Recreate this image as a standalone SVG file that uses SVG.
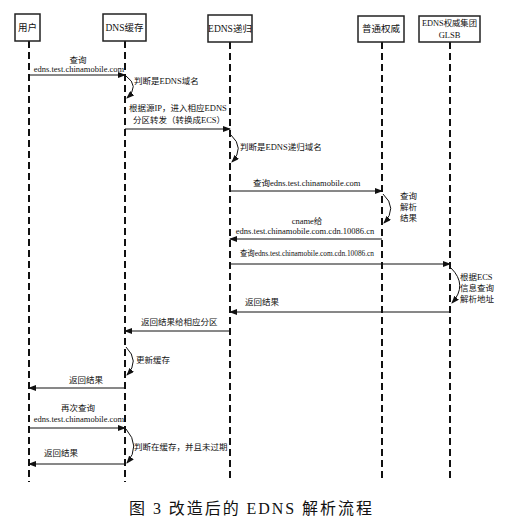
<svg xmlns="http://www.w3.org/2000/svg" width="516" height="526" viewBox="0 0 516 526">
<defs>
<marker id="ah" markerUnits="userSpaceOnUse" markerWidth="8" markerHeight="6" refX="7" refY="3" orient="auto">
<path d="M0,0 L8,3 L0,6 z" fill="#111"/>
</marker>
<style>
.box{fill:#fff;stroke:#222;stroke-width:1.5}
.life{stroke:#111;stroke-width:2;stroke-dasharray:7 4;fill:none}
.msg{stroke:#111;stroke-width:1;fill:none;marker-end:url(#ah)}
.loop{stroke:#111;stroke-width:1;fill:none;marker-end:url(#ah)}
.nt{font-family:"Liberation Serif","Noto Sans CJK SC",serif;font-size:9.5px;fill:#111;text-anchor:middle}
.t{font-family:"Liberation Serif","Noto Sans CJK SC",serif;font-size:8.5px;fill:#111}
.c{text-anchor:middle}
.cap{font-family:"Liberation Serif","Noto Sans CJK SC",serif;font-size:16px;fill:#111}
</style>
</defs>
<rect width="516" height="526" fill="#fff"/>
<g id="user">
<line class="life" x1="29" y1="41" x2="29" y2="482"/>
<rect class="box" x="15" y="14" width="25" height="27"/>
<text class="nt" x="27.5" y="31">用户</text>
</g>
<g id="dnscache">
<line class="life" x1="125" y1="41" x2="125" y2="482"/>
<rect class="box" x="103" y="14" width="43" height="27"/>
<text class="nt" x="124.5" y="31">DNS缓存</text>
</g>
<g id="ednsrec">
<line class="life" x1="230" y1="42" x2="230" y2="482"/>
<rect class="box" x="208" y="15" width="44" height="27"/>
<text class="nt" x="230" y="32">EDNS递归</text>
</g>
<g id="auth">
<line class="life" x1="382" y1="42" x2="382" y2="482"/>
<rect class="box" x="358" y="16" width="46" height="26"/>
<text class="nt" x="381" y="32">普通权威</text>
</g>
<g id="glsb">
<line class="life" x1="450" y1="42" x2="450" y2="482"/>
<rect class="box" x="419" y="16" width="61" height="26"/>
<text class="nt" x="449.5" y="26" style="font-size:8.5px" textLength="55" lengthAdjust="spacingAndGlyphs">EDNS权威集团</text>
<text class="nt" x="449.5" y="38" style="font-size:8.5px">GLSB</text>
</g>
<g id="connectors">
<line class="msg" x1="29" y1="75" x2="125" y2="75"/>
<path class="loop" d="M126,76 Q140,86 127,98"/>
<line class="msg" x1="125" y1="129" x2="230" y2="129"/>
<path class="loop" d="M231,135 Q245,148 232,162"/>
<line class="msg" x1="230" y1="191" x2="382" y2="191"/>
<path class="loop" d="M383,194 Q398,208 384,223"/>
<line class="msg" x1="382" y1="239" x2="230" y2="239"/>
<line class="msg" x1="230" y1="264" x2="450" y2="264"/>
<path class="loop" d="M451,268 Q468,285 452,303"/>
<line class="msg" x1="450" y1="312" x2="230" y2="312"/>
<line class="msg" x1="230" y1="331" x2="125" y2="331"/>
<path class="loop" d="M126,347 Q140,361 127,375"/>
<line class="msg" x1="125" y1="388" x2="29" y2="388"/>
<line class="msg" x1="29" y1="428" x2="125" y2="428"/>
<path class="loop" d="M126,429 Q141,446 127,463"/>
<line class="msg" x1="125" y1="464" x2="29" y2="464"/>
</g>
<g id="labels">
<text class="t c" x="78" y="63">查询</text>
<text class="t c" x="79" y="72">edns.test.chinamobile.com</text>
<text class="t" x="134" y="84">判断是EDNS域名</text>
<text class="t" x="129" y="111">根据源IP，进入相应EDNS</text>
<text class="t" x="133" y="123">分区转发（转换成ECS）</text>
<text class="t" x="240" y="150">判断是EDNS递归域名</text>
<text class="t" x="253" y="186">查询edns.test.chinamobile.com</text>
<text class="t" x="400" y="199">查询</text>
<text class="t" x="400" y="210">解析</text>
<text class="t" x="400" y="221">结果</text>
<text class="t c" x="307" y="224">cname给</text>
<text class="t c" x="305" y="234">edns.test.chinamobile.com.cdn.10086.cn</text>
<text class="t" x="240" y="256" textLength="134" lengthAdjust="spacingAndGlyphs">查询edns.test.chinamobile.com.cdn.10086.cn</text>
<text class="t" x="460" y="280">根据ECS</text>
<text class="t" x="460" y="291">信息查询</text>
<text class="t" x="460" y="302">解析地址</text>
<text class="t" x="245" y="305">返回结果</text>
<text class="t" x="141" y="325">返回结果给相应分区</text>
<text class="t" x="136" y="363">更新缓存</text>
<text class="t" x="69" y="383">返回结果</text>
<text class="t c" x="78" y="411">再次查询</text>
<text class="t c" x="79" y="422">edns.test.chinamobile.com</text>
<text class="t" x="134" y="450">判断在缓存，并且未过期</text>
<text class="t" x="44" y="456">返回结果</text>
<text class="cap" x="129" y="514" textLength="243" lengthAdjust="spacing">图 3 改造后的 EDNS 解析流程</text>
</g>
</svg>
